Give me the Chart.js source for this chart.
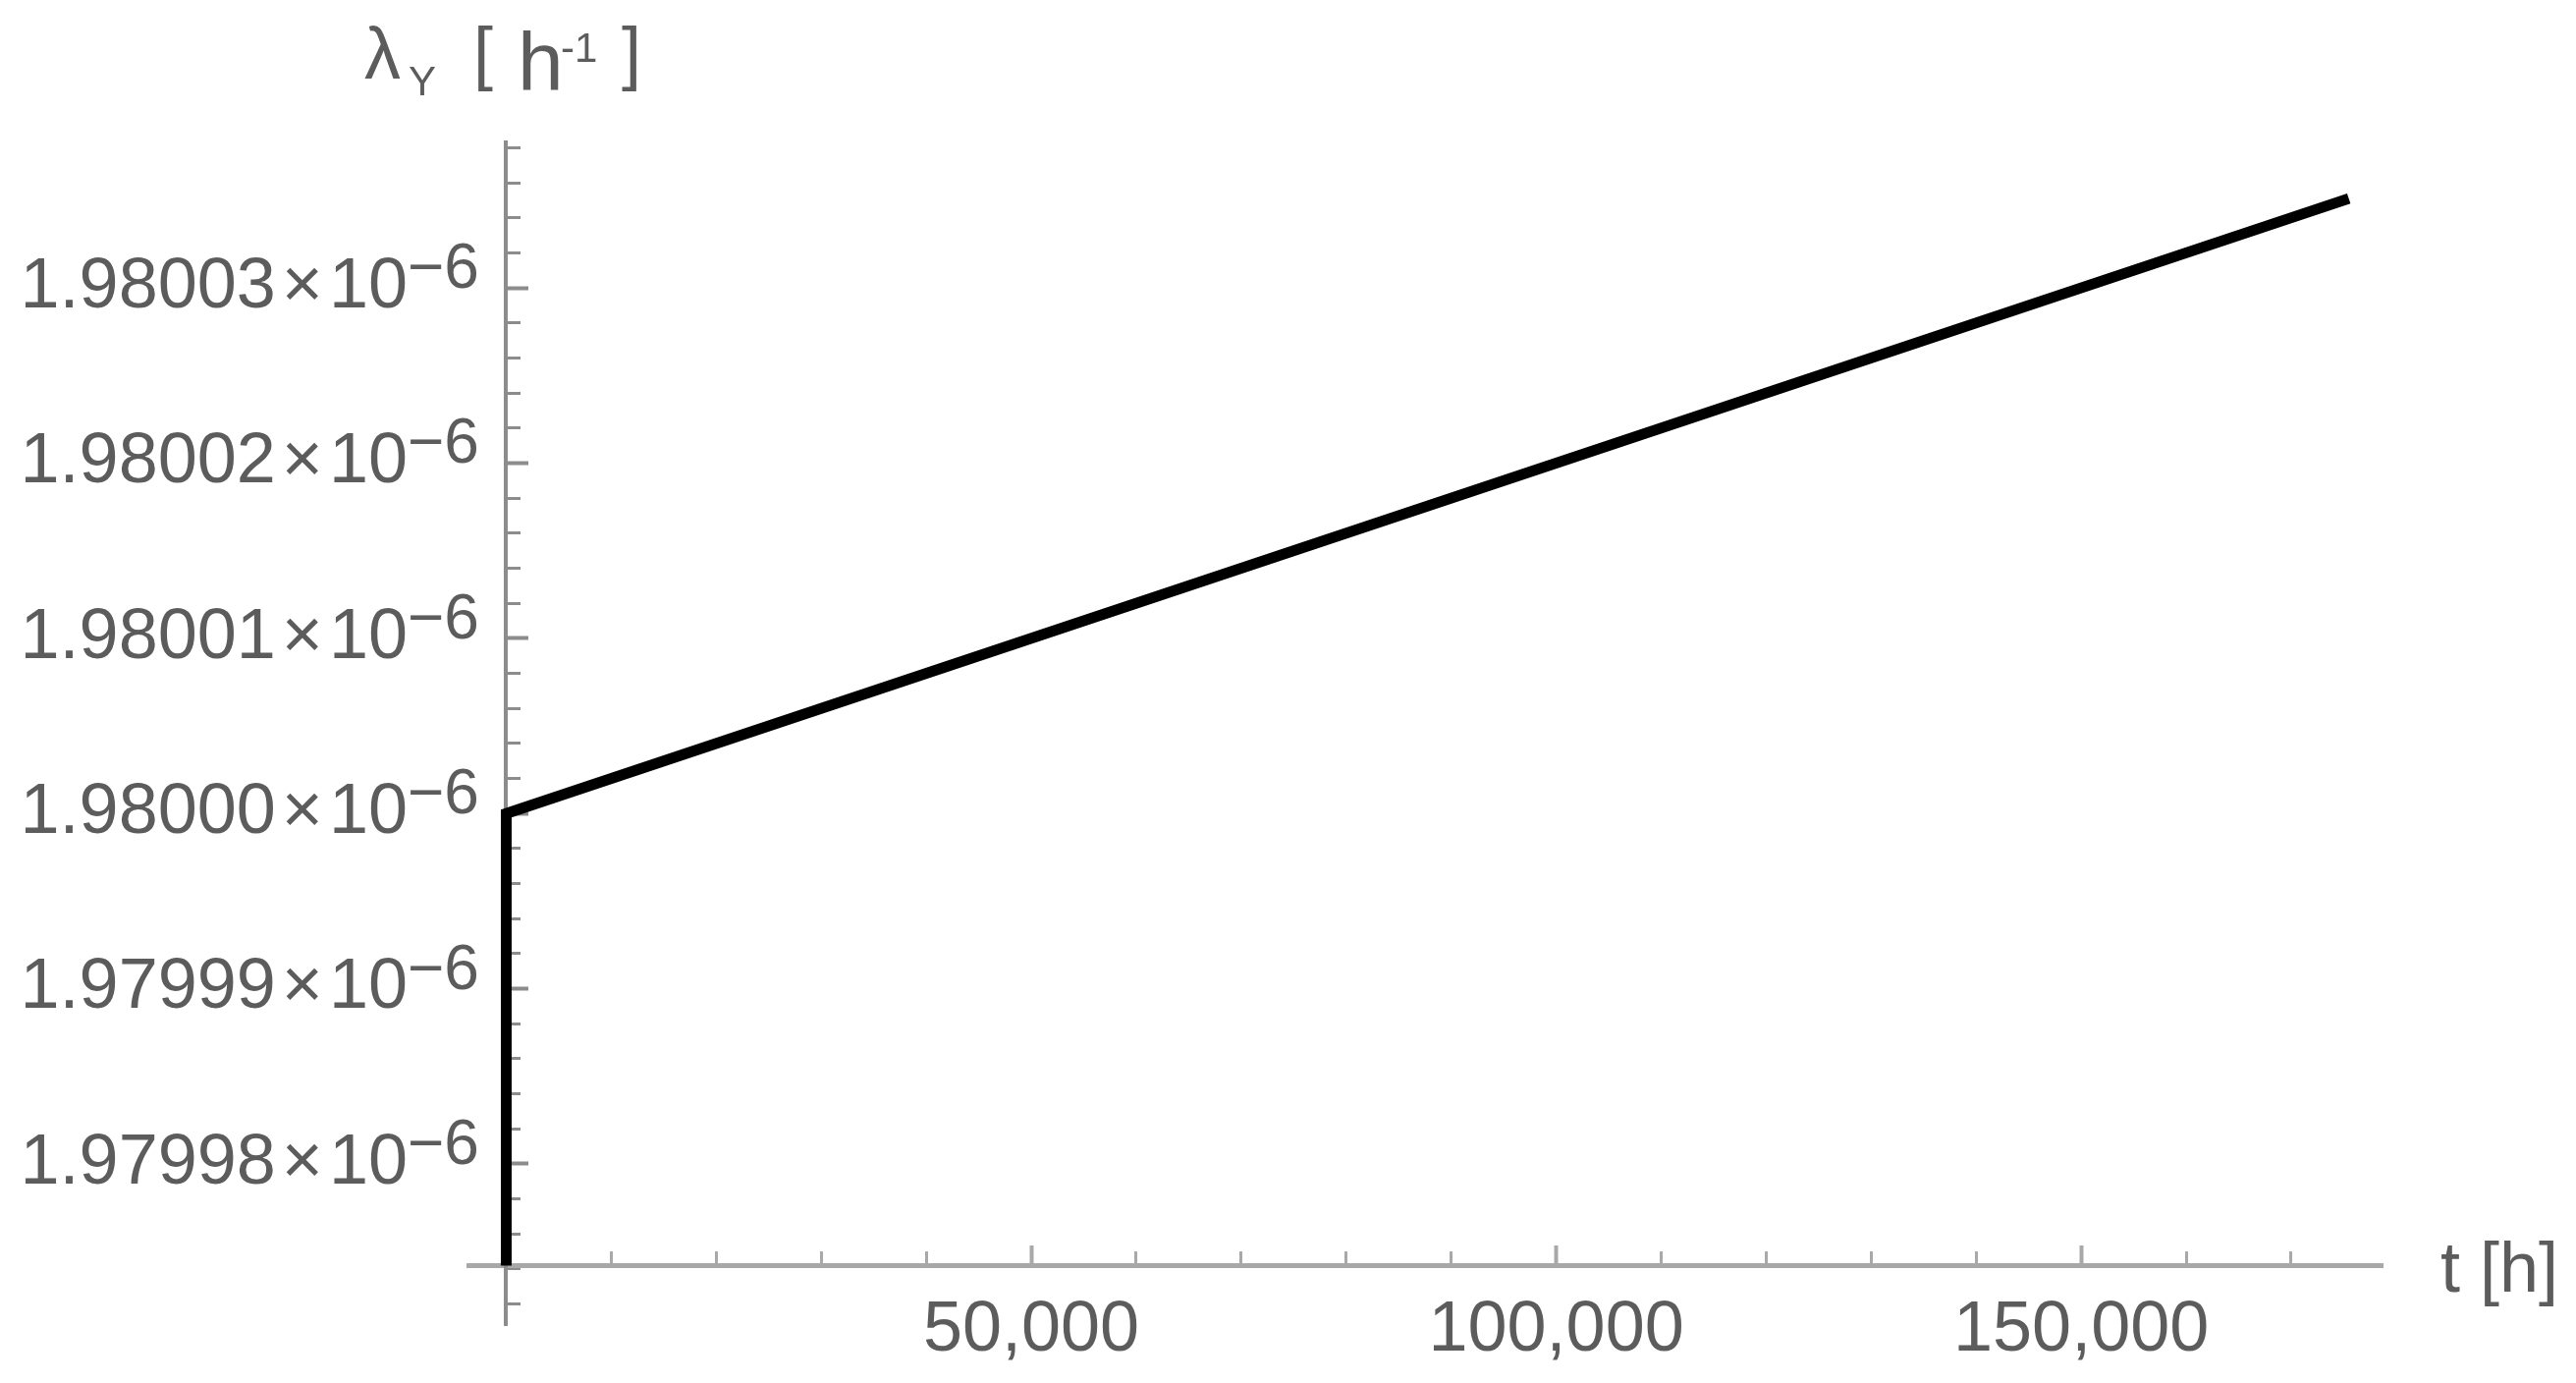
<!DOCTYPE html>
<html>
<head>
<meta charset="utf-8">
<script src="https://cdn.jsdelivr.net/npm/chart.js@4.4.0/dist/chart.umd.min.js"></script>
<style>
  html, body { margin: 0; padding: 0; background: #fff; }
  #wrap { width: 2623px; height: 1408px; }
</style>
</head>
<body>
<div id="wrap"><canvas id="myChart"></canvas></div>
<script>
// data (t in hours, lambda in 1/h)
const timeHours = [0, 0, 175000];
const lambdaY = [1.9799745e-6, 1.98000e-6, 1.980035e-6];

const xMajorTicks = [50000, 100000, 150000];
const xMinorTicks = [10000, 20000, 30000, 40000, 60000, 70000, 80000, 90000,
                     110000, 120000, 130000, 140000, 160000, 170000];
const yMajorTicks = [1.97998e-6, 1.97999e-6, 1.98000e-6, 1.98001e-6, 1.98002e-6, 1.98003e-6];
const yMinorTicks = [1.979972e-6, 1.979974e-6, 1.979976e-6, 1.979978e-6,
                     1.979982e-6, 1.979984e-6, 1.979986e-6, 1.979988e-6,
                     1.979992e-6, 1.979994e-6, 1.979996e-6, 1.979998e-6,
                     1.980002e-6, 1.980004e-6, 1.980006e-6, 1.980008e-6,
                     1.980012e-6, 1.980014e-6, 1.980016e-6, 1.980018e-6,
                     1.980022e-6, 1.980024e-6, 1.980026e-6, 1.980028e-6,
                     1.980032e-6, 1.980034e-6, 1.980036e-6, 1.980038e-6];
const yTickExponent = '\u22126';

const xMin = -3600, xMax = 178700;
const yMin = 1.9799708e-6, yMax = 1.9800383e-6;
const xAxisCrossing = 1.9799742e-6;
const yLabelAnchor = -9400;   // where the y tick labels end (in x units)

const textColor = '#5c5c5c';
const xAxisColor = '#a8a8a8';
const yAxisColor = '#8c8c8c';
const fam = '"Liberation Sans", Arial, sans-serif';
const tickFont = { family: fam, size: 72 };

const points = timeHours.map((t, i) => ({ x: t, y: lambdaY[i] }));

// axis titles and the exponent of the y tick labels
const axisText = {
  id: 'axisText',
  afterDraw(chart) {
    const ctx = chart.ctx;
    const ys = chart.scales.y;
    const lx = chart.scales.x.getPixelForValue(yLabelAnchor);
    ctx.save();
    ctx.fillStyle = textColor;
    ctx.textAlign = 'left';
    ctx.textBaseline = 'alphabetic';

    ctx.font = '64px ' + fam;
    yMajorTicks.forEach(v => ctx.fillText(yTickExponent, lx, ys.getPixelForValue(v)));

    ctx.font = '74px ' + fam;
    ctx.fillText('\u03bb', 371, 80);
    ctx.font = '42px ' + fam;
    ctx.fillText('Y', 416, 97);
    ctx.font = '72px ' + fam;
    ctx.fillText('[', 482, 78);
    ctx.font = '84px ' + fam;
    ctx.fillText('h', 527, 92);
    ctx.font = '42px ' + fam;
    ctx.fillText('-1', 571, 63);
    ctx.font = '72px ' + fam;
    ctx.fillText(']', 633, 78);

    ctx.fillText('t [h]', 2485, 1315);
    ctx.restore();
  }
};

const ctx = document.getElementById('myChart');

new Chart(ctx, {
  type: 'scatter',
  data: {
    datasets: [{
      data: points,
      xAxisID: 'x',
      yAxisID: 'y',
      showLine: true,
      borderColor: '#000',
      borderWidth: 11,
      borderJoinStyle: 'miter',
      borderCapStyle: 'square',
      pointRadius: 0,
      tension: 0
    }]
  },
  options: {
    responsive: true,
    maintainAspectRatio: false,
    animation: false,
    devicePixelRatio: 1,
    layout: { padding: { left: 477, right: 197, top: 145, bottom: 59 } },
    plugins: { legend: { display: false }, tooltip: { enabled: false } },
    scales: {
      x: {
        type: 'linear', axis: 'x', min: xMin, max: xMax,
        position: { y: xAxisCrossing },
        afterBuildTicks: s => { s.ticks = xMajorTicks.map(v => ({ value: v })); },
        ticks: {
          font: tickFont, color: textColor, padding: 47,
          maxRotation: 0, minRotation: 0, autoSkip: false,
          callback: v => v.toLocaleString('en-US')
        },
        grid: { drawOnChartArea: false, drawTicks: true, tickLength: -23, tickWidth: 4, tickColor: xAxisColor },
        border: { display: true, color: xAxisColor, width: 5 }
      },
      xMinor: {
        type: 'linear', axis: 'x', min: xMin, max: xMax,
        position: { y: xAxisCrossing },
        afterBuildTicks: s => { s.ticks = xMinorTicks.map(v => ({ value: v })); },
        ticks: { display: false },
        grid: { drawOnChartArea: false, drawTicks: true, tickLength: -14, tickWidth: 3, tickColor: xAxisColor },
        border: { display: false }
      },
      y: {
        type: 'linear', axis: 'y', min: yMin, max: yMax,
        position: { x: 0 },
        afterBuildTicks: s => { s.ticks = yMajorTicks.map(v => ({ value: v })); },
        ticks: { display: false },
        grid: { drawOnChartArea: false, drawTicks: true, tickLength: -25, tickWidth: 4, tickColor: yAxisColor },
        border: { display: true, color: yAxisColor, width: 4 }
      },
      yLabels: {
        type: 'linear', axis: 'y', min: yMin, max: yMax,
        position: { x: yLabelAnchor },
        afterBuildTicks: s => { s.ticks = yMajorTicks.map(v => ({ value: v })); },
        ticks: {
          font: tickFont, color: textColor, padding: 0, autoSkip: false,
          callback: v => (v * 1e6).toFixed(5) + '\u200a\u00d7\u200a10'
        },
        grid: { display: false, drawOnChartArea: false, drawTicks: false },
        border: { display: false }
      },
      yMinor: {
        type: 'linear', axis: 'y', min: yMin, max: yMax,
        position: { x: 0 },
        afterBuildTicks: s => { s.ticks = yMinorTicks.map(v => ({ value: v })); },
        ticks: { display: false },
        grid: { drawOnChartArea: false, drawTicks: true, tickLength: -15, tickWidth: 3, tickColor: yAxisColor },
        border: { display: false }
      }
    }
  },
  plugins: [axisText]
});
</script>
</body>
</html>
